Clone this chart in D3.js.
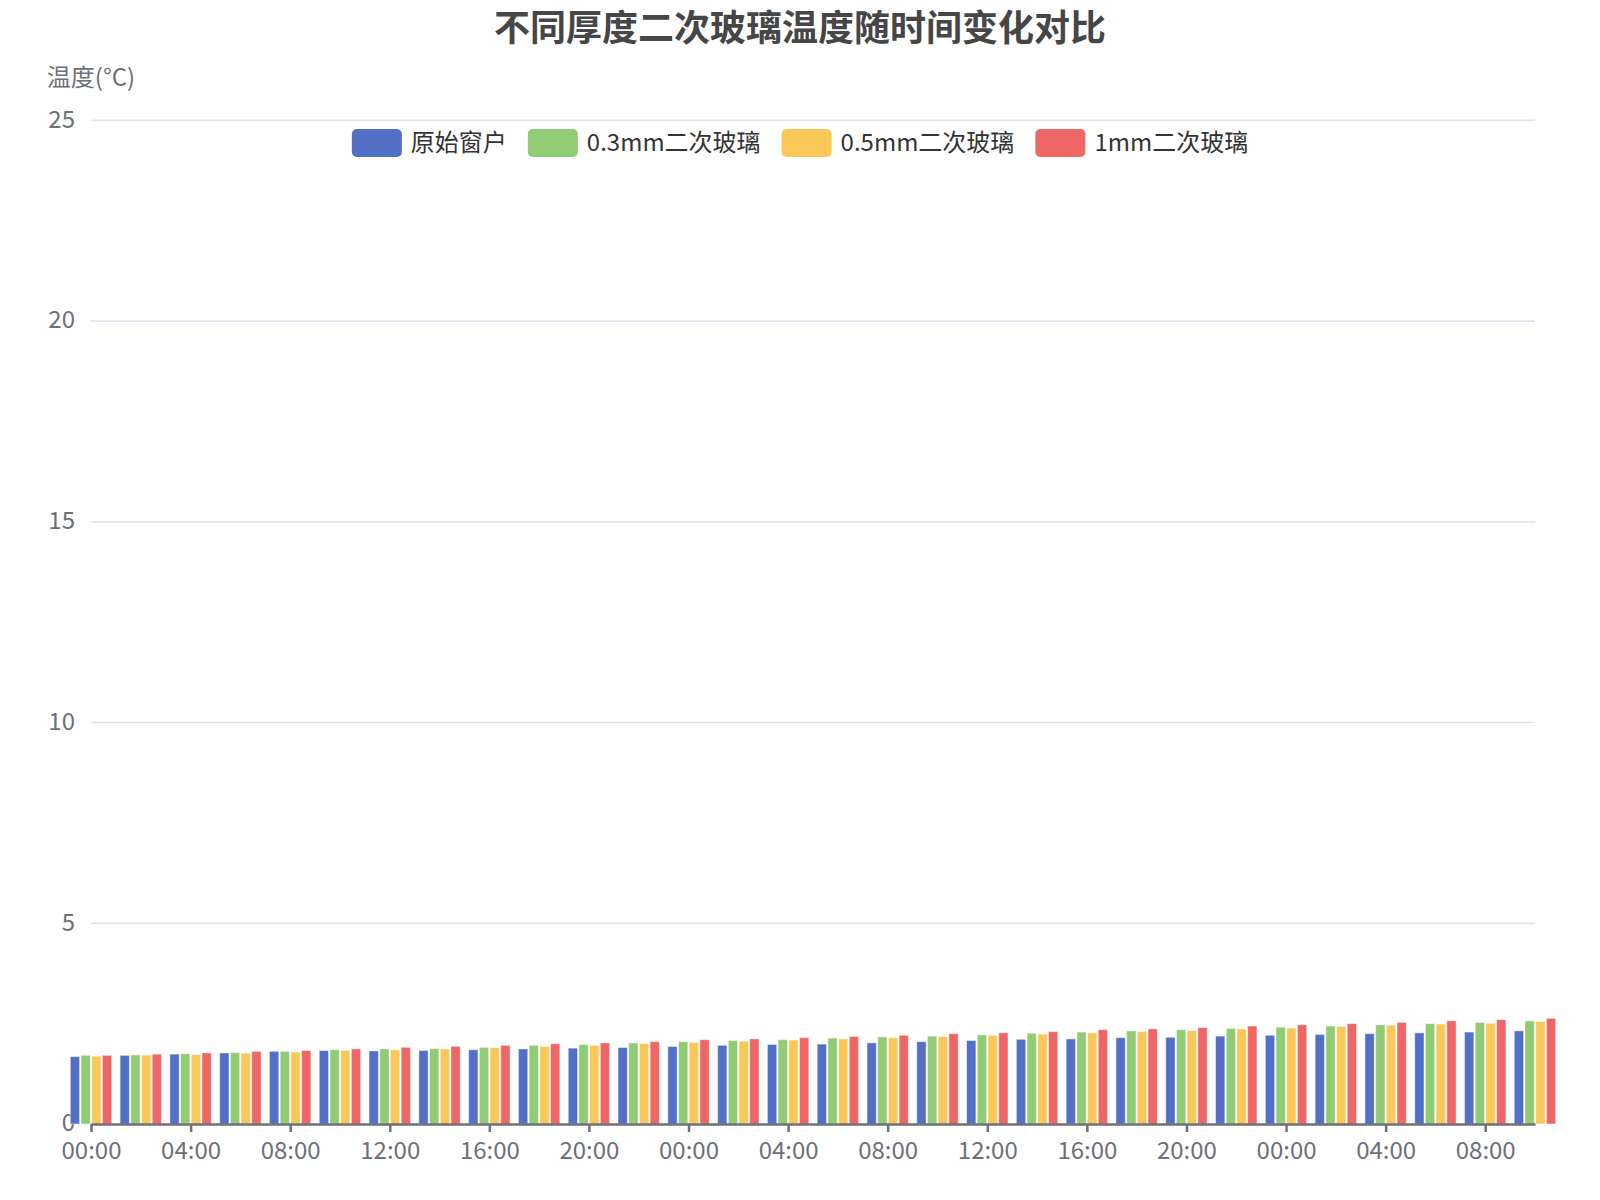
<!DOCTYPE html>
<html>
<head>
<meta charset="utf-8">
<script src="https://cdn.jsdelivr.net/npm/d3@7/dist/d3.min.js"></script>
<style>
  html, body { margin: 0; padding: 0; background: #fff; }
  svg { display: block; font-family: "Noto Sans CJK SC", "Noto Sans", sans-serif; }
</style>
</head>
<body>
<svg id="chart" width="1600" height="1200"></svg>
<script>
const title = "不同厚度二次玻璃温度随时间变化对比";
const yAxisName = "温度(°C)";
const categories = [
  "00:00","02:00","04:00","06:00","08:00","10:00","12:00","14:00","16:00","18:00","20:00","22:00",
  "00:00","02:00","04:00","06:00","08:00","10:00","12:00","14:00","16:00","18:00","20:00","22:00",
  "00:00","02:00","04:00","06:00","08:00","10:00"
];
const seriesNames = ["原始窗户", "0.3mm二次玻璃", "0.5mm二次玻璃", "1mm二次玻璃"];
const seriesColors = ["#5470c6", "#91cc75", "#fac858", "#ee6666"];
const original = [1.68,1.71,1.74,1.77,1.81,1.83,1.82,1.83,1.85,1.87,1.89,1.905,1.93,1.96,1.98,1.99,2.02,2.05,2.08,2.11,2.12,2.15,2.16,2.19,2.21,2.23,2.25,2.27,2.29,2.32];
const glass03 = [1.71,1.72,1.75,1.78,1.81,1.85,1.87,1.88,1.91,1.96,1.98,2.02,2.05,2.08,2.10,2.14,2.17,2.19,2.22,2.26,2.29,2.32,2.35,2.38,2.41,2.44,2.47,2.50,2.53,2.57];
const glass05 = [1.69,1.715,1.73,1.765,1.79,1.83,1.85,1.87,1.90,1.935,1.96,2.00,2.03,2.06,2.09,2.12,2.15,2.18,2.21,2.24,2.27,2.30,2.33,2.37,2.39,2.43,2.46,2.49,2.51,2.55];
const glass1 = [1.71,1.74,1.77,1.81,1.83,1.87,1.91,1.935,1.96,2.00,2.02,2.05,2.10,2.12,2.15,2.18,2.21,2.25,2.27,2.30,2.35,2.37,2.40,2.44,2.47,2.50,2.53,2.57,2.60,2.63];
const yTicks = [0, 5, 10, 15, 20, 25];

const seriesValues = [original, glass03, glass05, glass1];

const svg = d3.select("#chart");
const W = 1600, H = 1200;
const plotLeft = 91, plotRight = 1535, plotTop = 120.4, plotBottom = 1124;

const x = d3.scalePoint().domain(d3.range(categories.length)).range([plotLeft, plotRight]);
const y = d3.scaleLinear().domain([0, 25]).range([plotBottom, plotTop]);
const inner = d3.scaleBand().domain(d3.range(seriesNames.length)).range([-20.7, 20.7]).paddingInner(0.13).paddingOuter(0);

// Grid lines
svg.append("g").selectAll("line").data(yTicks.filter(d => d !== 0)).join("line")
  .attr("x1", plotLeft).attr("x2", plotRight)
  .attr("y1", d => y(d)).attr("y2", d => y(d))
  .attr("stroke", "#dfe5f0").attr("stroke-width", 1.6);

// Y axis labels
const yAxis = d3.axisLeft(y).tickValues(yTicks).tickSize(0).tickPadding(16).tickFormat(d3.format("d"));
const gy = svg.append("g").attr("transform", `translate(${plotLeft},0)`).call(yAxis);
gy.select(".domain").remove();
gy.selectAll("text").attr("font-size", 24).attr("fill", "#6e7079")
  .attr("font-family", "'Noto Sans CJK SC', sans-serif")
  .attr("dy", "0.28em");

// Bars
const bars = svg.append("g");
seriesValues.forEach((vals, si) => {
  bars.append("g").selectAll("rect").data(vals).join("rect")
    .attr("x", (d, i) => x(i) + inner(si))
    .attr("width", inner.bandwidth())
    .attr("y", d => y(d))
    .attr("height", d => y(0) - y(d))
    .attr("fill", seriesColors[si])
    .attr("stroke", "rgba(255,255,255,0.45)")
    .attr("stroke-width", 1);
});

// X axis
const xAxis = d3.axisBottom(x)
  .tickValues(d3.range(0, categories.length, 2))
  .tickFormat(i => categories[i])
  .tickSize(8).tickSizeOuter(0).tickPadding(10);
const gx = svg.append("g").attr("transform", `translate(0,${plotBottom})`).call(xAxis);
gx.select(".domain").attr("stroke", "#6e7079").attr("stroke-width", 2.5);
gx.selectAll(".tick line").attr("stroke", "#6e7079").attr("stroke-width", 2.5);
gx.selectAll("text").attr("font-size", 24).attr("fill", "#6e7079")
  .attr("font-family", "'Noto Sans CJK SC', sans-serif");

// Y axis name
svg.append("text").attr("x", plotLeft).attr("y", 75.5)
  .attr("text-anchor", "middle").attr("dominant-baseline", "central")
  .attr("font-size", 24).attr("fill", "#6e7079").text(yAxisName);

// Title
svg.append("text").attr("x", W / 2).attr("y", 25)
  .attr("text-anchor", "middle").attr("dominant-baseline", "central")
  .attr("font-size", 36).attr("font-weight", "bold").attr("fill", "#464646").text(title);

// Legend
const legend = svg.append("g");
const iconW = 50, iconH = 28, textGap = 9, itemGap = 21;
const items = legend.selectAll("g").data(seriesNames).join("g");
items.append("rect").attr("width", iconW).attr("height", iconH).attr("rx", 5).attr("ry", 5)
  .attr("y", -iconH / 2).attr("fill", (d, i) => seriesColors[i]);
items.append("text").attr("x", iconW + textGap).attr("y", -3)
  .attr("dominant-baseline", "central").attr("font-size", 24).attr("fill", "#333").text(d => d);
let widths = [];
items.each(function () {
  const t = d3.select(this).select("text").node().getComputedTextLength();
  widths.push(iconW + textGap + t);
});
const total = d3.sum(widths) + itemGap * (widths.length - 1);
let cx = W / 2 - total / 2;
items.attr("transform", (d, i) => {
  const tx = cx; cx += widths[i] + itemGap;
  return `translate(${tx},143)`;
});
</script>
</body>
</html>
